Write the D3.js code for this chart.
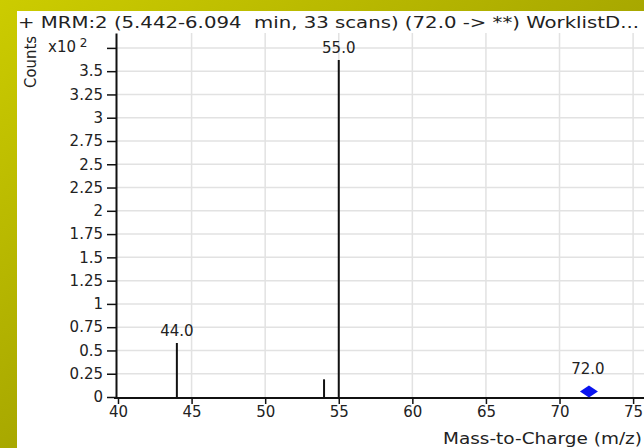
<!DOCTYPE html>
<html>
<head>
<meta charset="utf-8">
<script src="https://cdn.jsdelivr.net/npm/d3@7"></script>
<style>
  body { margin: 0; }
  text { font-family: "DejaVu Sans", sans-serif; fill: #222; }
</style>
</head>
<body>
<div id="chart"></div>
<script>
// spectrum data (counts x10^2)
const mzValues = [44.0, 54.0, 55.0];
const abundance = [0.58, 0.19, 3.62];
const peakLabels = ["44.0", "", "55.0"];
const precursorMz = [72.0];
const precursorY = [0.06];
const xTicks = [40, 45, 50, 55, 60, 65, 70, 75];
const yTicks = [0, 0.25, 0.5, 0.75, 1, 1.25, 1.5, 1.75, 2, 2.25, 2.5, 2.75, 3, 3.25, 3.5, 3.75];
const yTickLabels = ["0", "0.25", "0.5", "0.75", "1", "1.25", "1.5", "1.75", "2", "2.25", "2.5", "2.75", "3", "3.25", "3.5", ""];

const width = 644;
const height = 448;
const margin = {top: 33, right: 0, bottom: 51, left: 116};

const svg = d3.select("#chart")
  .append("svg")
  .attr("width", width)
  .attr("height", height);

// yellow frame
const grad = svg.append("defs").append("linearGradient")
  .attr("id", "frame")
  .attr("x1", "0").attr("y1", "0").attr("x2", "1").attr("y2", "1");
grad.append("stop").attr("offset", "0%").attr("stop-color", "#cccc00");
grad.append("stop").attr("offset", "100%").attr("stop-color", "#858500");

svg.append("rect").attr("width", width).attr("height", height).attr("fill", "url(#frame)");
svg.append("rect").attr("x", 17).attr("y", 11).attr("width", width - 17).attr("height", height - 11).attr("fill", "#fff");

const x = d3.scaleLinear()
  .domain([40, 75.74])
  .range([margin.left + 2, width - margin.right]);

const y = d3.scaleLinear()
  .domain([0, 3.91])
  .range([height - margin.bottom, margin.top]);

// grid
svg.append("g")
  .selectAll("line")
  .data(xTicks.slice(1))
  .enter()
  .append("line")
  .attr("x1", d => x(d)).attr("x2", d => x(d))
  .attr("y1", y(3.91)).attr("y2", y(0))
  .attr("stroke", "#e2e2e2")
  .attr("stroke-width", 1.5);

svg.append("g")
  .selectAll("line")
  .data(yTicks.slice(1))
  .enter()
  .append("line")
  .attr("x1", margin.left).attr("x2", width)
  .attr("y1", d => y(d)).attr("y2", d => y(d))
  .attr("stroke", "#e2e2e2")
  .attr("stroke-width", 1.5);

// axes
const xAxis = svg.append("g")
  .attr("transform", "translate(0," + (y(0) + 1) + ")")
  .call(d3.axisBottom(x).tickValues(xTicks).tickSize(6).tickPadding(2).tickSizeOuter(0));

const yAxis = svg.append("g")
  .attr("transform", "translate(" + margin.left + ",0)")
  .call(d3.axisLeft(y).tickValues(yTicks).tickSize(9).tickPadding(4).tickSizeOuter(0)
    .tickFormat((d, i) => yTickLabels[i]));

[xAxis, yAxis].forEach(g => {
  g.selectAll("text").style("font-size", "15px").attr("fill", "#222");
  g.selectAll("line").attr("stroke", "#111").attr("stroke-width", 1.5);
  g.select(".domain").attr("stroke", "#111").attr("stroke-width", 2);
});
xAxis.select(".domain").attr("d", "M" + (margin.left - 2) + ",0H" + width);

// peaks
svg.append("g")
  .selectAll("line")
  .data(mzValues)
  .enter()
  .append("line")
  .attr("x1", d => x(d)).attr("x2", d => x(d))
  .attr("y1", y(0)).attr("y2", (d, i) => y(abundance[i]))
  .attr("stroke", "#111")
  .attr("stroke-width", 2);

svg.append("g")
  .selectAll("text")
  .data(mzValues)
  .enter()
  .append("text")
  .text((d, i) => peakLabels[i])
  .attr("x", d => x(d))
  .attr("y", (d, i) => y(abundance[i]) - 7)
  .attr("text-anchor", "middle")
  .style("font-size", "15px");

// precursor marker (flattened diamond)
svg.append("g")
  .selectAll("path")
  .data(precursorMz)
  .enter()
  .append("path")
  .attr("d", "M-9,0L0,-6L9,0L0,6Z")
  .attr("transform", (d, i) => "translate(" + x(d) + "," + y(precursorY[i]) + ")")
  .attr("fill", "#0a14f0");

svg.append("text")
  .text(precursorMz[0].toFixed(1))
  .attr("x", x(precursorMz[0]) - 1)
  .attr("y", y(precursorY[0]) - 17)
  .attr("text-anchor", "middle")
  .style("font-size", "15px");

// titles
svg.append("text")
  .text("+ MRM:2 (5.442-6.094  min, 33 scans) (72.0 -> **) WorklistD...")
  .attr("x", 18)
  .attr("y", 28)
  .attr("textLength", 621)
  .attr("lengthAdjust", "spacingAndGlyphs")
  .style("font-size", "15px")
  .style("white-space", "pre");

svg.append("text")
  .text("Counts")
  .attr("transform", "translate(36,62) rotate(-90)")
  .attr("text-anchor", "middle")
  .attr("textLength", 52)
  .attr("lengthAdjust", "spacingAndGlyphs")
  .style("font-size", "15px");

const mult = svg.append("text")
  .attr("x", 48)
  .attr("y", 52)
  .style("font-size", "15px");
mult.append("tspan").text("x10");
mult.append("tspan").text(" 2").attr("dy", -5).style("font-size", "12px");

svg.append("text")
  .text("Mass-to-Charge (m/z)")
  .attr("x", 443)
  .attr("y", 444)
  .attr("textLength", 199)
  .attr("lengthAdjust", "spacingAndGlyphs")
  .style("font-size", "15px");
</script>
</body>
</html>
